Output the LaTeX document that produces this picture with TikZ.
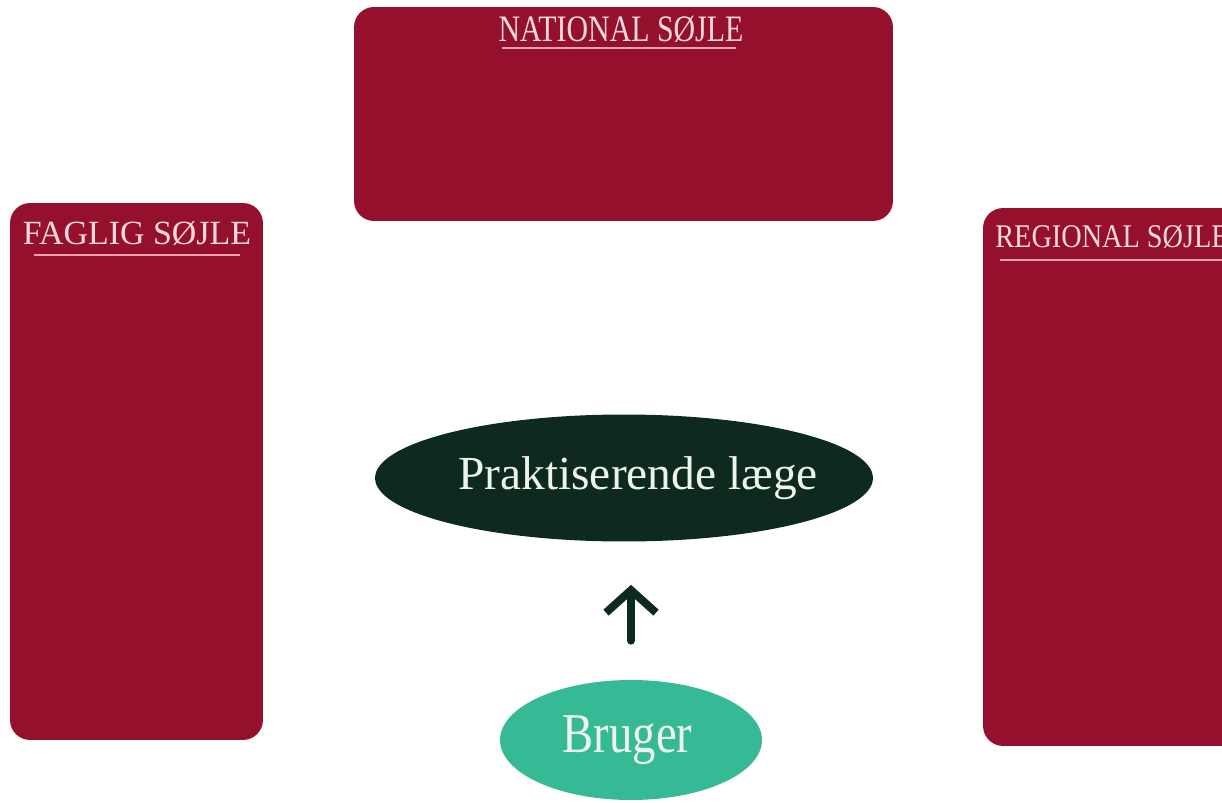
\documentclass[tikz,border=0pt]{standalone}
\usepackage{fontspec}
\setmainfont{Liberation Serif}
\usepackage{graphicx}
\usetikzlibrary{arrows.meta,positioning,shapes.geometric}
\definecolor{pillarred}{HTML}{95102D}
\definecolor{titlepink}{HTML}{F7D9DF}
\definecolor{rulepink}{HTML}{EBA3B4}
\definecolor{gpgreen}{HTML}{0E2A1F}
\definecolor{usergreen}{HTML}{36B995}
\definecolor{textwhite}{HTML}{EEF3EE}

\begin{document}
\begin{tikzpicture}[
  x=0.02cm, y=-0.02cm,
  pillar/.style={rounded corners=0.4cm, fill=pillarred, inner sep=0pt},
  title/.style={text=titlepink, inner sep=0pt, anchor=base},
  titlerule/.style={draw=rulepink, line width=1pt},
  oval/.style={ellipse, inner sep=0pt, text=textwhite},
  uparrow/.style={draw=gpgreen, line width=4.5pt, line cap=round, -{Straight Barb[length=0.45cm,width=1.0cm]}}
]
\useasboundingbox (0,0) rectangle (1222,803);
\clip (0,0) rectangle (1222,803);
% the three pillars
\node[pillar, minimum width=10.78cm, minimum height=4.28cm] (national) at (623.5,114) {};
\node[pillar, minimum width=5.06cm, minimum height=10.74cm] (faglig) at (136.5,471.5) {};
\node[pillar, minimum width=5.58cm, minimum height=10.76cm] (regional) at (1122.5,477) {};
% pillar titles
\node[title] (nattitle) at (621,42) {\fontsize{17}{17}\selectfont\scalebox{1}[1.25]{NATIONAL SØJLE}};
\node[title] (fagtitle) at (137,245) {\fontsize{19.3}{19.3}\selectfont FAGLIG SØJLE};
\node[title, anchor=base west] (regtitle) at (995,248) {\fontsize{16.1}{16.1}\selectfont\scalebox{1}[1.17]{REGIONAL SØJLE}};
\draw[titlerule, shorten <=0.08cm, shorten >=0.16cm] ([yshift=-0.12cm]nattitle.base west) -- ([yshift=-0.12cm]nattitle.base east);
\draw[titlerule, shorten <=0.22cm, shorten >=0.22cm] ([yshift=-0.2cm]fagtitle.base west) -- ([yshift=-0.2cm]fagtitle.base east);
\draw[titlerule, shorten <=0.1cm] ([yshift=-0.24cm]regtitle.base west) -- ([yshift=-0.24cm]regtitle.base east);
% doctor and user
\node[oval, fill=gpgreen, minimum width=9.96cm, minimum height=2.54cm] (laege) at (624,478) {\fontsize{27}{27}\selectfont\makebox[0pt]{\hspace*{0.56cm}Praktiserende læge}};
\node[oval, fill=usergreen, minimum width=5.24cm, minimum height=2.4cm] (bruger) at (631,740) {\fontsize{32}{32}\selectfont\makebox[0pt]{\scalebox{0.83}[1]{Bruger}\hspace*{0.14cm}}};
\draw[uparrow, shorten <=0.78cm, shorten >=0.86cm] (bruger.north) -- (bruger.north |- laege.south);
\end{tikzpicture}
\end{document}
